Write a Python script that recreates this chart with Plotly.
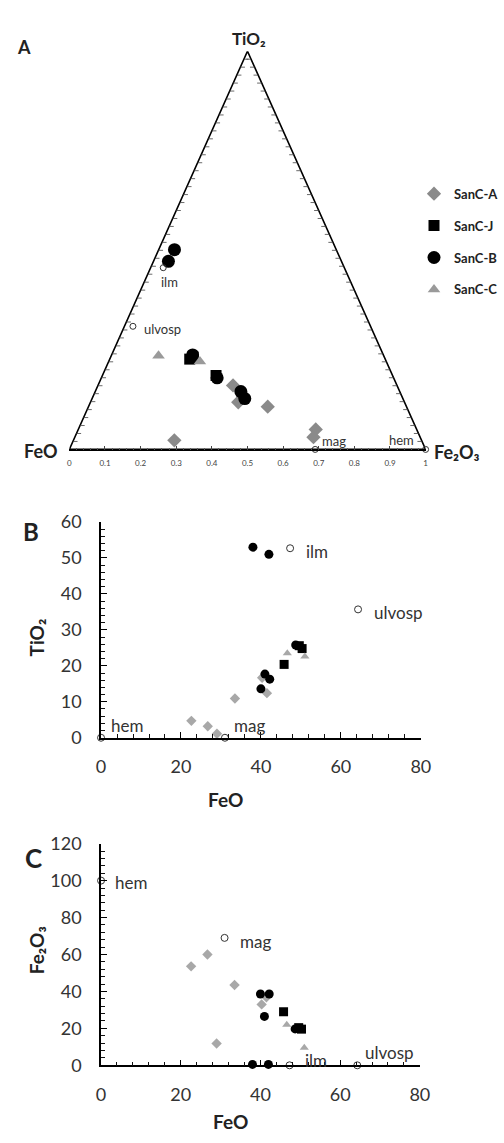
import numpy as np
import plotly.graph_objects as go

# ---------------- oxide analyses (wt%) ----------------
# SanC-A
a_feo = [22.6, 26.7, 29.0, 33.5, 40.3, 41.5]
a_tio2 = [4.7, 3.2, 1.1, 10.9, 16.7, 12.4]
a_fe2o3 = [53.6, 60.0, 11.8, 43.5, 33.0, 36.8]
# SanC-J
j_feo = [45.8, 49.6, 50.3]
j_tio2 = [20.4, 25.6, 24.8]
j_fe2o3 = [29.0, 20.4, 19.6]
# SanC-B
b_feo = [38.0, 42.0, 41.0, 40.0, 42.2, 48.7]
b_tio2 = [53.0, 51.0, 17.7, 13.6, 16.3, 25.8]
b_fe2o3 = [0.5, 0.5, 26.5, 38.6, 38.6, 19.7]
# SanC-C
c_feo = [46.6, 51.0]
c_tio2 = [23.5, 22.6]
c_fe2o3 = [22.0, 9.5]

# end members
ref_names = ["hem", "mag", "ilm", "ulvosp"]
ref_feo = [0.0, 31.0, 47.3, 64.3]
ref_tio2 = [0.0, 0.0, 52.7, 35.7]
ref_fe2o3 = [100.0, 69.0, 0.0, 0.0]

ternary_ticks = [0, 0.1, 0.2, 0.3, 0.4, 0.5, 0.6, 0.7, 0.8, 0.9, 1]

FONT = "Lato, DejaVu Sans, sans-serif"
DARK = "#222222"
H = np.sqrt(3) / 2  # height factor of the TiO2 fraction on the diagram
APEX_Y = 1.0


def ternary_xy(feo, tio2, fe2o3):
    feo, tio2, fe2o3 = (np.asarray(v, float) for v in (feo, tio2, fe2o3))
    tot = feo + tio2 + fe2o3
    a = tio2 / tot
    c = fe2o3 / tot
    return c + a / 2, a * H


series = [
    dict(name="SanC-A", feo=a_feo, tio2=a_tio2, fe2o3=a_fe2o3,
         symbol="diamond", color_a="#8a8a8a", color_b="#a8a8a8", size_a=11, size_b=8),
    dict(name="SanC-J", feo=j_feo, tio2=j_tio2, fe2o3=j_fe2o3,
         symbol="square", color_a="#000000", color_b="#000000", size_a=11, size_b=9),
    dict(name="SanC-B", feo=b_feo, tio2=b_tio2, fe2o3=b_fe2o3,
         symbol="circle", color_a="#000000", color_b="#000000", size_a=13, size_b=9),
    dict(name="SanC-C", feo=c_feo, tio2=c_tio2, fe2o3=c_fe2o3,
         symbol="triangle-up", color_a="#9a9a9a", color_b="#a8a8a8", size_a=11, size_b=8),
]

fig = go.Figure()

# ---------------- panel A: ternary outline ----------------
fig.add_trace(go.Scatter(
    x=[0, 0.5, 1, 0], y=[0, APEX_Y, 0, 0], mode="lines",
    line=dict(color="black", width=1.6), hoverinfo="skip", showlegend=False,
    xaxis="x", yaxis="y", cliponaxis=False))

# small inward ticks along the two sloping sides
tx, ty = [], []
for t in np.arange(0.02, 1.0, 0.02):
    xl = 0.5 * t
    tx += [xl, xl + 0.013, None]
    ty += [t * APEX_Y, t * APEX_Y, None]
    xr = 1 - 0.5 * t
    tx += [xr, xr - 0.013, None]
    ty += [t * APEX_Y, t * APEX_Y, None]
fig.add_trace(go.Scatter(
    x=tx, y=ty, mode="lines", line=dict(color="#444444", width=0.8),
    hoverinfo="skip", showlegend=False, xaxis="x", yaxis="y", cliponaxis=False))

for s in series:
    x, y = ternary_xy(s["feo"], s["tio2"], s["fe2o3"])
    fig.add_trace(go.Scatter(
        x=x, y=y, mode="markers", name=s["name"], legendgroup=s["name"],
        marker=dict(symbol=s["symbol"], size=s["size_a"], color=s["color_a"]),
        xaxis="x", yaxis="y", cliponaxis=False))

rx, ry = ternary_xy(ref_feo, ref_tio2, ref_fe2o3)
fig.add_trace(go.Scatter(
    x=rx, y=ry, mode="markers",
    marker=dict(symbol="circle-open", size=6, color="#333333", line=dict(width=1)),
    showlegend=False, xaxis="x", yaxis="y", cliponaxis=False))

# ---------------- panels B and C ----------------
for s in series:
    fig.add_trace(go.Scatter(
        x=s["feo"], y=s["tio2"], mode="markers", name=s["name"],
        legendgroup=s["name"], showlegend=False,
        marker=dict(symbol=s["symbol"], size=s["size_b"], color=s["color_b"]),
        xaxis="x2", yaxis="y2", cliponaxis=False))
    fig.add_trace(go.Scatter(
        x=s["feo"], y=s["fe2o3"], mode="markers", name=s["name"],
        legendgroup=s["name"], showlegend=False,
        marker=dict(symbol=s["symbol"], size=s["size_b"], color=s["color_b"]),
        xaxis="x3", yaxis="y3", cliponaxis=False))

ref_marker = dict(symbol="circle-open", size=7, color="#333333", line=dict(width=1))
fig.add_trace(go.Scatter(
    x=ref_feo, y=ref_tio2, mode="markers",
    marker=ref_marker, showlegend=False, xaxis="x2", yaxis="y2", cliponaxis=False))
fig.add_trace(go.Scatter(
    x=ref_feo, y=ref_fe2o3, mode="markers",
    marker=ref_marker, showlegend=False, xaxis="x3", yaxis="y3", cliponaxis=False))

# end-member name placement (anchor, x/y pixel offset) for each panel
name_style = {
    "A": [("right", -10, 9), ("left", 5, 8), ("center", 6, -14), ("left", 9, -3)],
    "B": [("left", 8, 12), ("left", 7, 12), ("left", 14, -3), ("left", 14, -3)],
    "C": [("left", 12, -2), ("left", 13, -4), ("left", 13, 5), ("left", 6, 13)],
}
panel_pts = {
    "A": ("x", "y", rx, ry, 13),
    "B": ("x2", "y2", ref_feo, ref_tio2, 17),
    "C": ("x3", "y3", ref_feo, ref_fe2o3, 17),
}
for key, (xr_, yr_, xs, ys, fsize) in panel_pts.items():
    for name, xv, yv, (anc, dx, dy) in zip(ref_names, xs, ys, name_style[key]):
        fig.add_annotation(
            text=name, x=float(xv), y=float(yv), xref=xr_, yref=yr_,
            xanchor=anc, yanchor="middle", xshift=dx, yshift=dy, showarrow=False,
            font=dict(family=FONT, size=fsize, color="#333333"))

W, Hpx = 504, 1143


def px_x(p):
    return p / W


def px_y(p):
    return 1 - p / Hpx


xy_axis = dict(showline=True, linecolor="black", linewidth=1.5, showgrid=False,
               zeroline=False, ticks="inside", ticklen=6, tickwidth=1.2,
               tickcolor="black",
               tickfont=dict(family=FONT, size=18, color="#333333"),
               fixedrange=True)
minor_axis = dict(ticks="inside", ticklen=4, tickwidth=1, tickcolor="#111111")

fig.update_layout(
    width=W, height=Hpx, margin=dict(l=0, r=0, t=0, b=0),
    paper_bgcolor="white", plot_bgcolor="white",
    font=dict(family=FONT, color=DARK),
    showlegend=True,
    legend=dict(x=px_x(426), y=px_y(170), xanchor="left", yanchor="top",
                bgcolor="rgba(0,0,0,0)", tracegroupgap=12, itemwidth=30,
                font=dict(family=FONT, size=13, color=DARK, weight="bold"),
                itemclick=False, itemdoubleclick=False),
    xaxis=dict(domain=[px_x(67), px_x(438)], range=[0, 1], anchor="y",
               showline=True, linecolor="black", linewidth=1.6, showgrid=False,
               zeroline=False, ticks="inside", ticklen=4, tickwidth=1,
               tickcolor="#444444",
               tickvals=ternary_ticks, ticktext=[f"{v:g}" for v in ternary_ticks],
               tickfont=dict(family=FONT, size=8, color="#444444"),
               ticklabelstandoff=5,
               minor=dict(dtick=0.02, ticks="inside", ticklen=2, tickwidth=1,
                          tickcolor="#555555"),
               fixedrange=True),
    yaxis=dict(domain=[px_y(446), px_y(40)], range=[0, APEX_Y], anchor="x",
               visible=False, fixedrange=True),
    xaxis2=dict(xy_axis, domain=[px_x(100), px_x(433)], range=[0, 80], anchor="y2",
                dtick=20, ticklabelstandoff=12, minor=dict(minor_axis, dtick=4)),
    yaxis2=dict(xy_axis, domain=[px_y(740), px_y(520)], range=[0, 60], anchor="x2",
                dtick=10, ticklabelstandoff=14, minor=dict(minor_axis, dtick=2)),
    xaxis3=dict(xy_axis, domain=[px_x(100), px_x(432)], range=[0, 80], anchor="y3",
                dtick=20, ticklabelstandoff=12, minor=dict(minor_axis, dtick=4)),
    yaxis3=dict(xy_axis, domain=[px_y(1074), px_y(848)], range=[0, 120], anchor="x3",
                dtick=20, ticklabelstandoff=14, minor=dict(minor_axis, dtick=4)),
)

bold = dict(family=FONT, color=DARK, weight="bold")


def label(text, x, y, size, xanchor="center", angle=0):
    fig.add_annotation(text=text, x=px_x(x), y=px_y(y), xref="paper", yref="paper",
                       xanchor=xanchor, yanchor="middle", showarrow=False,
                       textangle=angle, font=dict(bold, size=size))


# panel letters
label("A", 20, 36, 18)
label("B", 27, 530, 24)
label("C", 30, 863, 26)
# ternary apices
label("TiO₂", 254, 27, 17)
label("FeO", 37, 448, 18)
label("Fe₂O₃", 445, 449, 18, xanchor="left")
# axis titles
label("FeO", 230, 803, 19)
label("TiO₂", 33, 638, 19, angle=-90)
label("FeO", 235, 1131, 19)
label("Fe₂O₃", 33, 957, 19, angle=-90)

fig.write_html("out.html")
